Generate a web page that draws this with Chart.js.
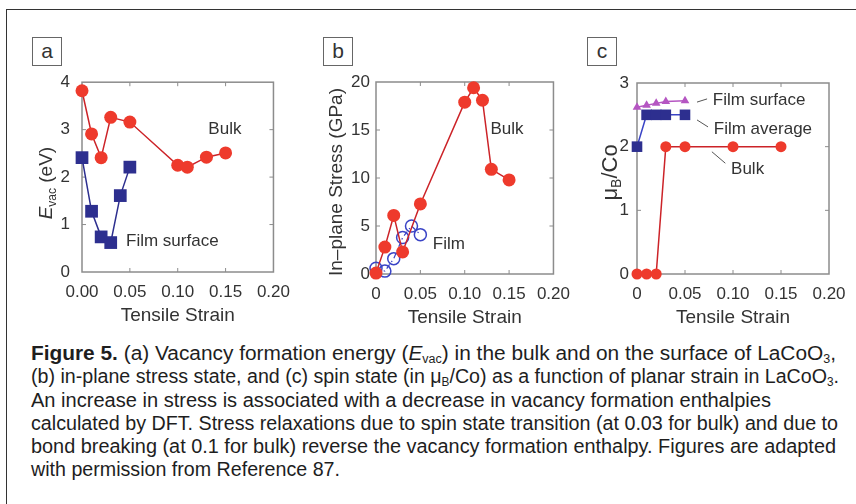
<!DOCTYPE html>
<html>
<head>
<meta charset="utf-8">
<script src="https://cdn.jsdelivr.net/npm/chart.js@4"></script>
<style>
body{margin:0;background:#fff;width:856px;height:504px;overflow:hidden;position:relative;font-family:"Liberation Sans",Arial,sans-serif;}
#frame{position:absolute;left:6px;top:9px;width:900px;height:600px;border:1.5px solid #333;}
.tag{position:absolute;top:37px;width:28px;height:27px;border:1.5px solid #666;font-size:21px;line-height:25px;text-align:center;color:#333;}
canvas{position:absolute;top:60px;}
.cap{position:absolute;left:31px;white-space:nowrap;font-size:20px;line-height:23px;color:#1e1e1e;transform-origin:0 0;font-family:"Liberation Sans Narrow","Liberation Sans",Arial,sans-serif;}
.cap sub{font-size:12px;vertical-align:-3px;line-height:0;}
</style>
</head>
<body>
<div id="frame"></div>
<div class="tag" style="left:32px">a</div>
<div class="tag" style="left:323px">b</div>
<div class="tag" style="left:587px">c</div>
<canvas id="chartA" width="300" height="280" style="left:0px"></canvas>
<canvas id="chartB" width="280" height="280" style="left:300px"></canvas>
<canvas id="chartC" width="276" height="280" style="left:580px"></canvas>

<div class="cap" style="top:342px" data-w="805"><b>Figure 5.</b> (a) Vacancy formation energy (<i>E</i><sub>vac</sub>) in the bulk and on the surface of LaCoO<sub>3</sub>,</div>
<div class="cap" style="top:365px" data-w="808">(b) in-plane stress state, and (c) spin state (in μ<sub>B</sub>/Co) as a function of planar strain in LaCoO<sub>3</sub>.</div>
<div class="cap" style="top:389px" data-w="740">An increase in stress is associated with a decrease in vacancy formation enthalpies</div>
<div class="cap" style="top:412px" data-w="807">calculated by DFT. Stress relaxations due to spin state transition (at 0.03 for bulk) and due to</div>
<div class="cap" style="top:435px" data-w="805">bond breaking (at 0.1 for bulk) reverse the vacancy formation enthalpy. Figures are adapted</div>
<div class="cap" style="top:458px" data-w="309">with permission from Reference 87.</div>

<script>
// panel a: vacancy formation energy
const strainBulkA = [0, 0.01, 0.02, 0.03, 0.05, 0.10, 0.11, 0.13, 0.15];
const evacBulk = [3.82, 2.91, 2.41, 3.26, 3.16, 2.25, 2.21, 2.42, 2.51];
const strainFilmA = [0, 0.01, 0.02, 0.03, 0.04, 0.05];
const evacFilm = [2.41, 1.28, 0.74, 0.62, 1.61, 2.21];

// panel b: in-plane stress
const strainBulkB = [0, 0.01, 0.02, 0.03, 0.05, 0.10, 0.11, 0.12, 0.13, 0.15];
const stressBulk = [0.1, 2.8, 6.1, 2.3, 7.3, 17.9, 19.4, 18.1, 10.9, 9.8];
const strainFilmB = [0, 0.01, 0.02, 0.03, 0.04, 0.05];
const stressFilm = [0.6, 0.3, 1.6, 3.8, 5.0, 4.1];

// panel c: spin state
const strainBulkC = [0, 0.01, 0.02, 0.03, 0.05, 0.10, 0.15];
const spinBulk = [0, 0, 0, 2.0, 2.0, 2.0, 2.0];
const strainFilmC = [0, 0.01, 0.02, 0.03, 0.05];
const spinFilmAvg = [2.0, 2.5, 2.5, 2.5, 2.5];
const spinFilmSurf = [2.62, 2.65, 2.68, 2.71, 2.72];

// tick labels
const xTicksA = ['0.00', '0.05', '0.10', '0.15', '0.20'];
const xTicksBC = ['0', '0.05', '0.10', '0.15', '0.20'];
const yTicksA = ['0', '1', '2', '3', '4'];
const yTicksB = ['0', '5', '10', '15', '20'];
const yTicksC = ['0', '1', '2', '3'];

const RED = '#ee3a2c', RED_LINE = '#cc2328', NAVY = '#2d2f8f', BLUE = '#3a44c6', MAG = '#b556c2';
const TXT = '#333';
const FONT = '"Liberation Sans", Arial, sans-serif';

const pts = (xs, ys) => xs.map((x, i) => ({x, y: ys[i]}));

function drawRich(ctx, parts, size) {
  // parts: [{t, it, sub}] drawn left to right, centered on origin
  const fontOf = p => (p.it ? 'italic ' : '') + (p.sub ? Math.round(size * 0.62) : size) + 'px ' + FONT;
  let w = 0;
  parts.forEach(p => { ctx.font = fontOf(p); w += ctx.measureText(p.t).width; });
  let x = -w / 2;
  ctx.textBaseline = 'middle';
  ctx.textAlign = 'left';
  parts.forEach(p => {
    ctx.font = fontOf(p);
    ctx.fillText(p.t, x, p.sub ? size * 0.3 : 0);
    x += ctx.measureText(p.t).width;
  });
}

function decor(cfg) {
  return {
    id: 'decor',
    beforeDatasetsDraw(chart) {
      const {ctx, chartArea: a, scales: {x, y}} = chart;
      ctx.save();
      ctx.strokeStyle = '#8c8c8c';
      ctx.lineWidth = 1.5;
      ctx.strokeRect(a.left, a.top, a.right - a.left, a.bottom - a.top);
      ctx.lineWidth = 1;
      ctx.beginPath();
      x.ticks.forEach(t => {
        if (t.value <= x.min || t.value >= x.max) return;
        const px = x.getPixelForValue(t.value);
        ctx.moveTo(px, a.bottom); ctx.lineTo(px, a.bottom - 4);
        ctx.moveTo(px, a.top); ctx.lineTo(px, a.top + 4);
      });
      y.ticks.forEach(t => {
        if (t.value <= y.min || t.value >= y.max) return;
        const py = y.getPixelForValue(t.value);
        ctx.moveTo(a.left, py); ctx.lineTo(a.left + 4, py);
        ctx.moveTo(a.right, py); ctx.lineTo(a.right - 4, py);
      });
      ctx.stroke();
      ctx.restore();
    },
    afterDraw(chart) {
      const {ctx, chartArea: a, scales: {x, y}} = chart;
      ctx.save();
      ctx.fillStyle = TXT;
      // x title
      ctx.font = '19px ' + FONT;
      ctx.textAlign = 'center';
      ctx.textBaseline = 'middle';
      ctx.fillText('Tensile Strain', (a.left + a.right) / 2, a.bottom + cfg.xTitleGap);
      // y title
      ctx.save();
      ctx.translate(a.left - cfg.yTitleGap, (a.top + a.bottom) / 2 + cfg.yTitleShift);
      ctx.rotate(-Math.PI / 2);
      drawRich(ctx, cfg.yTitle, cfg.yTitleSize || 19);
      ctx.restore();
      // labels
      ctx.font = '17px ' + FONT;
      ctx.textAlign = 'left';
      ctx.textBaseline = 'middle';
      cfg.notes.forEach(n => ctx.fillText(n.t, x.getPixelForValue(n.x), y.getPixelForValue(n.y)));
      ctx.strokeStyle = '#555';
      ctx.lineWidth = 1;
      (cfg.leaders || []).forEach(l => {
        ctx.beginPath();
        ctx.moveTo(x.getPixelForValue(l[0]), y.getPixelForValue(l[1]));
        ctx.lineTo(x.getPixelForValue(l[2]), y.getPixelForValue(l[3]));
        ctx.stroke();
      });
      ctx.restore();
    }
  };
}

function makePanel(id, datasets, opt) {
  new Chart(document.getElementById(id), {
    type: 'line',
    data: {datasets},
    options: {
      responsive: false,
      animation: false,
      layout: {padding: {top: opt.padTop, right: opt.padRight, left: 0, bottom: 0}},
      plugins: {legend: {display: false}, tooltip: {enabled: false}},
      scales: {
        x: {
          type: 'linear', min: 0, max: 0.2,
          grid: {display: false, drawTicks: false},
          border: {display: false},
          ticks: {stepSize: 0.05, padding: 10, color: TXT, font: {size: 17, family: FONT},
                  callback: (v, i) => opt.xTicks[i]},
          afterFit: s => { s.height = opt.xHeight; }
        },
        y: {
          min: 0, max: opt.yMax,
          grid: {display: false, drawTicks: false},
          border: {display: false},
          ticks: {stepSize: opt.yStep, padding: opt.yPad, color: TXT, font: {size: 17, family: FONT},
                  callback: (v, i) => opt.yTicks[i]},
          afterFit: s => { s.width = opt.yWidth; }
        }
      }
    },
    plugins: [decor(opt.decor)]
  });
}

function series(data, color, lineColor, style, radius, extra) {
  return Object.assign({
    data, borderColor: lineColor, borderWidth: 1.5,
    pointStyle: style, pointRadius: radius, pointBackgroundColor: color,
    pointBorderColor: color, pointBorderWidth: 0, tension: 0, clip: false
  }, extra || {});
}

makePanel('chartA', [
  series(pts(strainBulkA, evacBulk), RED, RED_LINE, 'circle', 6.5),
  series(pts(strainFilmA, evacFilm), NAVY, NAVY, 'rect', 9)
], {
  padTop: 22, padRight: 11, xHeight: 68, yWidth: 82, yMax: 4, yStep: 1, yPad: 12,
  xTicks: xTicksA, yTicks: yTicksA,
  decor: {
    xTitleGap: 44, yTitleGap: 35, yTitleShift: 6,
    yTitle: [{t: 'E', it: true}, {t: 'vac', sub: true}, {t: ' (eV)'}],
    notes: [{t: 'Bulk', x: 0.132, y: 3.0}, {t: 'Film surface', x: 0.046, y: 0.65}]
  }
});

makePanel('chartB', [
  series(pts(strainBulkB, stressBulk), RED, RED_LINE, 'circle', 6.5),
  series(pts(strainFilmB, stressFilm), 'rgba(0,0,0,0)', BLUE, 'circle', 6,
         {pointBorderColor: BLUE, pointBorderWidth: 1.5, borderDash: [5, 3, 1.5, 3], borderWidth: 1.2})
], {
  padTop: 22, padRight: 12, xHeight: 66, yWidth: 76, yMax: 20, yStep: 5, yPad: 6,
  xTicks: xTicksBC, yTicks: yTicksB,
  decor: {
    xTitleGap: 44, yTitleGap: 39, yTitleShift: 4,
    yTitle: [{t: 'In\u2013plane Stress (GPa)'}],
    notes: [{t: 'Bulk', x: 0.129, y: 15.1}, {t: 'Film', x: 0.064, y: 3.1}]
  }
});

makePanel('chartC', [
  series(pts(strainBulkC, spinBulk), RED, RED_LINE, 'circle', 5.5),
  series(pts(strainFilmC, spinFilmAvg), NAVY, BLUE, 'rect', 7.5),
  series(pts(strainFilmC, spinFilmSurf), MAG, MAG, 'triangle', 5)
], {
  padTop: 23, padRight: 27, xHeight: 66, yWidth: 57, yMax: 3, yStep: 1, yPad: 8,
  xTicks: xTicksBC, yTicks: yTicksC,
  decor: {
    xTitleGap: 44, yTitleGap: 26, yTitleShift: -6, yTitleSize: 22,
    yTitle: [{t: '\u03bc'}, {t: 'B', sub: true}, {t: '/Co'}],
    notes: [{t: 'Film surface', x: 0.079, y: 2.73}, {t: 'Film average', x: 0.080, y: 2.28},
            {t: 'Bulk', x: 0.098, y: 1.65}],
    leaders: [[0.0625, 2.70, 0.073, 2.75], [0.0625, 2.42, 0.074, 2.31], [0.078, 1.92, 0.092, 1.74]]
  }
});

// fit each caption line to its width in the figure
document.querySelectorAll('.cap').forEach(el => {
  const w = el.getBoundingClientRect().width;
  el.style.transform = 'scaleX(' + (+el.dataset.w / w) + ')';
});
</script>
</body>
</html>
